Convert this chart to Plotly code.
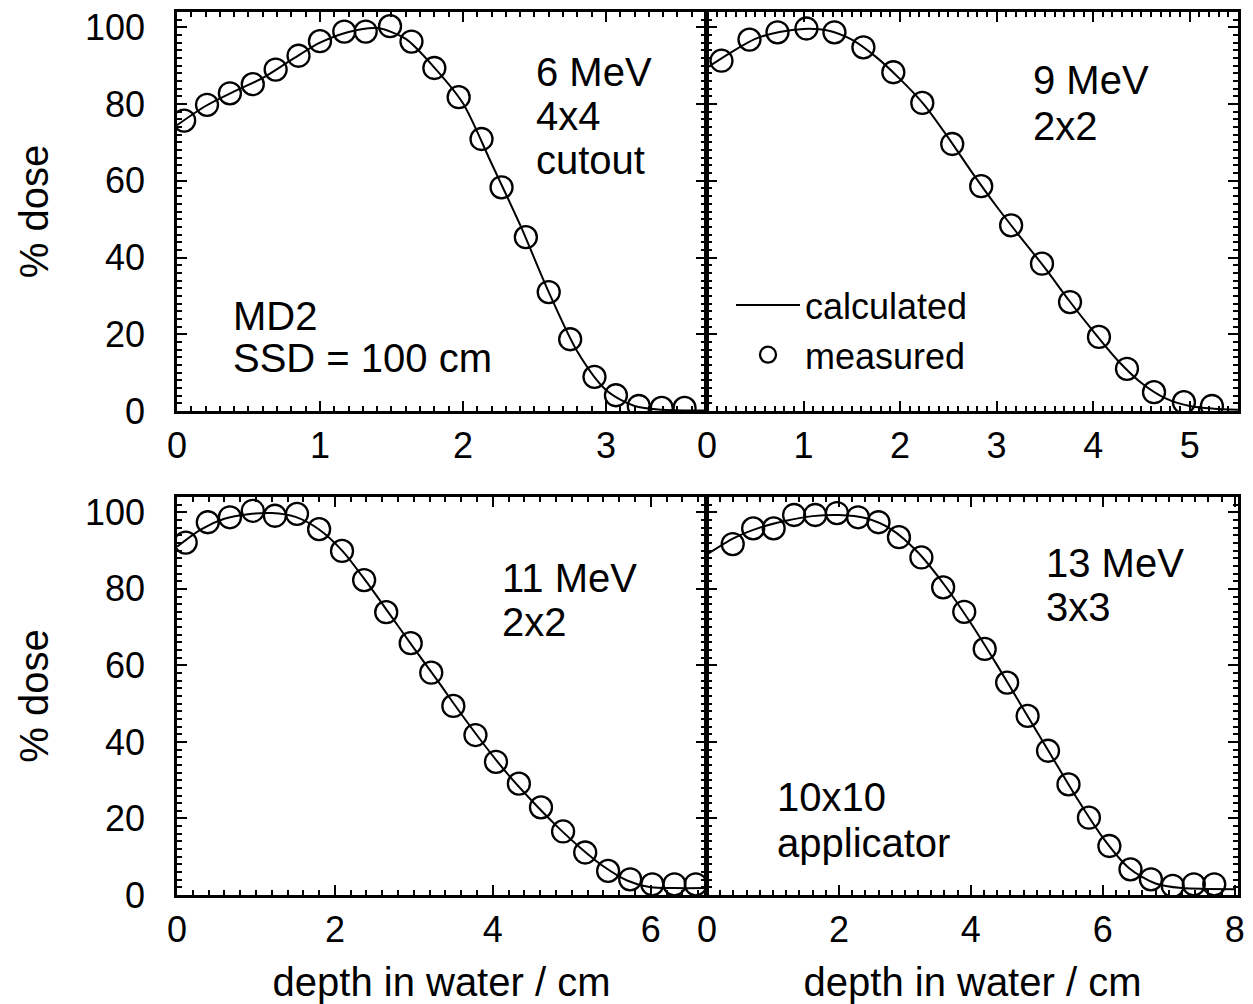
import plotly.graph_objects as go

# ---------------- data ----------------
# 6 MeV, 4x4 cutout
meas6_x = [0.05, 0.21, 0.37, 0.53, 0.69, 0.85, 1.00, 1.17, 1.32, 1.49, 1.64, 1.80,
           1.97, 2.13, 2.27, 2.44, 2.60, 2.75, 2.92, 3.07, 3.23, 3.39, 3.55]
meas6_y = [75.7, 79.8, 82.8, 85.2, 89.0, 92.6, 96.4, 98.9, 98.9, 100.3, 96.3, 89.4,
           81.8, 70.9, 58.3, 45.3, 31.0, 18.7, 8.9, 4.1, 1.3, 0.8, 0.8]
calc6_x = [0, 0.2, 0.4, 0.6, 0.8, 1.0, 1.2, 1.4, 1.6, 1.8, 2.0, 2.2, 2.4, 2.6,
           2.8, 3.0, 3.2, 3.4, 3.7]
calc6_y = [74.5, 79.5, 83.3, 86.8, 91.5, 96.0, 98.8, 99.8, 97.0, 89.5, 80.2, 64.5,
           48.5, 31.0, 15.5, 5.5, 1.3, 0.3, 0.1]

# 9 MeV, 2x2
meas9_x = [0.15, 0.44, 0.73, 1.03, 1.32, 1.62, 1.93, 2.23, 2.54, 2.84, 3.15, 3.47,
           3.76, 4.06, 4.35, 4.63, 4.94, 5.23]
meas9_y = [91.3, 96.8, 98.7, 99.7, 98.7, 94.8, 88.3, 80.3, 69.6, 58.6, 48.4, 38.4,
           28.4, 19.3, 11.0, 4.9, 2.3, 1.3]
calc9_x = [0, 0.25, 0.5, 0.75, 1.0, 1.25, 1.5, 1.75, 2.0, 2.25, 2.5, 2.75, 3.0,
           3.25, 3.5, 3.75, 4.0, 4.25, 4.5, 4.75, 5.0, 5.25, 5.5]
calc9_y = [89.5, 93.5, 97.0, 98.8, 99.6, 99.2, 96.8, 92.3, 86.5, 79.8, 71.2, 62.0,
           53.3, 45.2, 37.3, 28.8, 20.8, 13.3, 7.3, 3.3, 1.3, 0.6, 0.3]

# 11 MeV, 2x2
meas11_x = [0.11, 0.39, 0.67, 0.96, 1.24, 1.52, 1.80, 2.09, 2.37, 2.65, 2.96, 3.22,
            3.50, 3.78, 4.04, 4.33, 4.61, 4.89, 5.17, 5.46, 5.74, 6.02, 6.30, 6.57]
meas11_y = [92.1, 97.4, 98.7, 100.4, 99.1, 99.6, 95.6, 89.9, 82.3, 73.9, 65.8, 58.1,
            49.4, 41.8, 34.8, 29.1, 22.9, 16.6, 11.1, 6.3, 4.1, 2.8, 2.8, 2.8]
calc11_x = [0, 0.3, 0.6, 0.9, 1.2, 1.5, 1.8, 2.1, 2.4, 2.7, 3.0, 3.3, 3.6, 3.9,
            4.2, 4.5, 4.8, 5.1, 5.4, 5.7, 6.0, 6.3, 6.7]
calc11_y = [91.0, 95.5, 98.3, 99.5, 99.8, 98.8, 95.5, 89.8, 81.8, 73.2, 64.5, 56.0,
            47.3, 39.0, 31.3, 24.5, 18.2, 12.5, 7.5, 3.8, 2.0, 1.8, 1.8]

# 13 MeV, 3x3
meas13_x = [0.39, 0.70, 1.01, 1.32, 1.64, 1.97, 2.29, 2.60, 2.91, 3.25, 3.58, 3.90,
            4.21, 4.55, 4.86, 5.17, 5.48, 5.79, 6.10, 6.42, 6.73, 7.06, 7.38, 7.69]
meas13_y = [91.7, 95.8, 95.8, 99.3, 99.3, 99.8, 98.7, 97.4, 93.5, 88.2, 80.4, 74.0,
            64.3, 55.5, 46.8, 37.7, 28.9, 20.2, 12.8, 6.7, 4.1, 2.4, 2.8, 2.8]
calc13_x = [0, 0.4, 0.8, 1.2, 1.6, 2.0, 2.4, 2.8, 3.2, 3.6, 4.0, 4.4, 4.8, 5.2,
            5.6, 6.0, 6.4, 6.8, 7.2, 7.6, 8.0]
calc13_y = [89.0, 93.2, 96.0, 97.8, 99.0, 99.3, 98.5, 95.5, 89.5, 81.0, 71.0, 60.0,
            48.5, 37.0, 25.5, 15.0, 7.0, 3.0, 1.8, 1.6, 1.5]

x_ranges = [[0, 3.7], [0, 5.5], [0, 6.7], [0, 8.05]]
x_dticks = [1, 1, 2, 2]
x_minor = [0.1, 0.1, 0.2, 0.2]
y_range = [0, 104]

panel_labels = [
    ["6 MeV", "4x4", "cutout"],
    ["9 MeV", "2x2"],
    ["11 MeV", "2x2"],
    ["13 MeV", "3x3"],
]
extra_labels_tl = ["MD2", "SSD = 100 cm"]
extra_labels_br = ["10x10", "applicator"]

FONT = "Liberation Sans, Arial, Helvetica, sans-serif"

# ---------------- layout geometry ----------------
W, H = 1253, 1004
def px_x(p):
    return p / W
def px_y(p):
    return 1 - p / H

dom_x = [[px_x(177), px_x(706)], [px_x(707), px_x(1238)]]
dom_y = [[px_y(411), px_y(12)], [px_y(895), px_y(497)]]

fig = go.Figure()

data = [
    (calc6_x, calc6_y, meas6_x, meas6_y),
    (calc9_x, calc9_y, meas9_x, meas9_y),
    (calc11_x, calc11_y, meas11_x, meas11_y),
    (calc13_x, calc13_y, meas13_x, meas13_y),
]

for i, (cx, cy, mx, my) in enumerate(data):
    xa = "x" if i == 0 else f"x{i+1}"
    ya = "y" if i == 0 else f"y{i+1}"
    fig.add_trace(go.Scatter(
        x=cx, y=cy, mode="lines", xaxis=xa, yaxis=ya,
        line=dict(color="black", width=2, shape="spline", smoothing=0.8),
        name="calculated", showlegend=(i == 1), legendrank=1,
    ))
    fig.add_trace(go.Scatter(
        x=mx, y=my, mode="markers", xaxis=xa, yaxis=ya,
        marker=dict(symbol="circle-open", size=22, color="black",
                    line=dict(width=2.3, color="black")),
        name="measured", showlegend=(i == 1), legendrank=2,
    ))

def xaxis_def(i, row, col):
    d = dict(
        domain=dom_x[col], anchor=("y" if i == 0 else f"y{i+1}"),
        range=x_ranges[i], dtick=x_dticks[i], tick0=0, automargin=False,
        showline=True, linecolor="black", linewidth=2.5, mirror="allticks",
        ticks="inside", ticklen=10, tickwidth=2, tickcolor="black",
        minor=dict(ticks="inside", dtick=x_minor[i], ticklen=5, tickwidth=1.5,
                   tickcolor="black", showgrid=False),
        showgrid=False, zeroline=False,
        tickfont=dict(family=FONT, size=36, color="black"),
        ticklabelstandoff=1,
    )
    if row == 1:
        d["title"] = dict(text="depth in water / cm",
                          font=dict(family=FONT, size=40, color="black"),
                          standoff=23)
    return d

def yaxis_def(i, row, col):
    d = dict(
        domain=dom_y[row], anchor=("x" if i == 0 else f"x{i+1}"),
        range=y_range, dtick=20, tick0=0, automargin=False,
        showline=True, linecolor="black", linewidth=2.5, mirror="allticks",
        ticks="inside", ticklen=10, tickwidth=2, tickcolor="black",
        minor=dict(ticks="inside", dtick=2, ticklen=5, tickwidth=1.5,
                   tickcolor="black", showgrid=False),
        showgrid=False, zeroline=False,
        tickfont=dict(family=FONT, size=36, color="black"),
        showticklabels=(col == 0),
        ticklabelstandoff=22,
    )
    if col == 0:
        d["title"] = dict(text="% dose",
                          font=dict(family=FONT, size=40, color="black"),
                          standoff=24)
    return d

layout_axes = {}
for i in range(4):
    row, col = divmod(i, 2)
    kx = "xaxis" if i == 0 else f"xaxis{i+1}"
    ky = "yaxis" if i == 0 else f"yaxis{i+1}"
    layout_axes[kx] = xaxis_def(i, row, col)
    layout_axes[ky] = yaxis_def(i, row, col)

annotations = []
def add_lines(lines, xref, yref, x0, y0, step=44):
    for k, t in enumerate(lines):
        annotations.append(dict(
            text=t, xref=xref, yref=yref, x=x0, y=y0 - k * step / 399,
            xanchor="left", yanchor="middle", showarrow=False,
            font=dict(family=FONT, size=40, color="black"),
        ))

# panel positions in domain fractions (panel height 399 px)
add_lines(panel_labels[0], "x domain", "y domain", (534 - 177) / 529, (411 - 72) / 399)
add_lines(extra_labels_tl, "x domain", "y domain", (231 - 177) / 529, (411 - 316) / 399, step=42)
add_lines(panel_labels[1], "x2 domain", "y2 domain", (1031 - 707) / 531, (411 - 80) / 399, step=46)
add_lines(panel_labels[2], "x3 domain", "y3 domain", (500 - 177) / 529, (895 - 578) / 398)
add_lines(panel_labels[3], "x4 domain", "y4 domain", (1044 - 707) / 531, (895 - 563) / 398)
add_lines(extra_labels_br, "x4 domain", "y4 domain", (775 - 707) / 531, (895 - 797) / 398, step=46)

fig.update_layout(
    template="none",
    width=W, height=H,
    margin=dict(l=0, r=0, t=0, b=0, pad=0),
    paper_bgcolor="white", plot_bgcolor="white",
    font=dict(family=FONT, color="black"),
    showlegend=True,
    legend=dict(
        x=px_x(731), y=px_y(275), xanchor="left", yanchor="top",
        bgcolor="rgba(0,0,0,0)", font=dict(family=FONT, size=36, color="black"),
        itemwidth=64, tracegroupgap=0,
    ),
    annotations=annotations,
    **layout_axes,
)

fig.write_html("out.html")
